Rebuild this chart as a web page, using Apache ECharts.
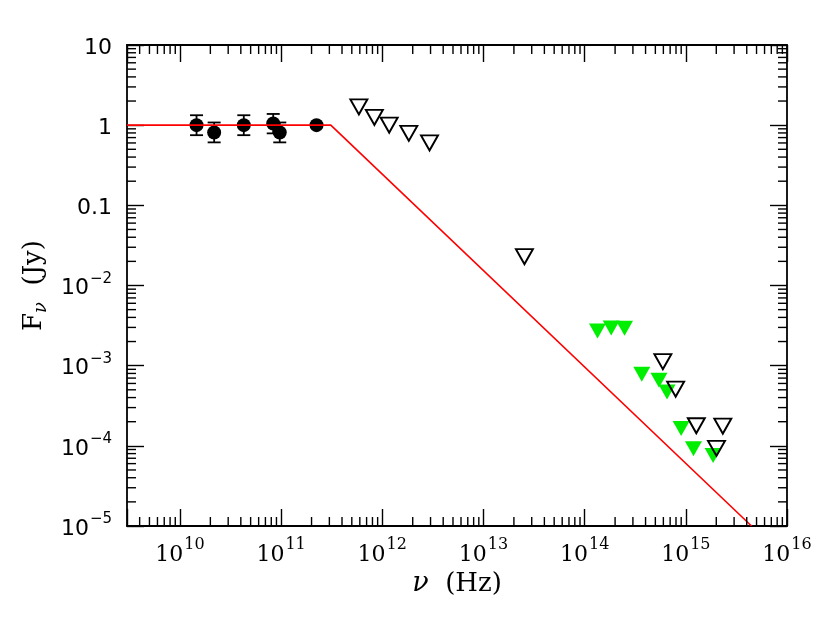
<!DOCTYPE html>
<html><head><meta charset="utf-8">
<script src="https://cdn.jsdelivr.net/npm/echarts@6/dist/echarts.min.js"></script>
<style>html,body{margin:0;padding:0;background:#fff}#c{width:830px;height:619px}</style>
</head><body><div id="c"></div>
<script>
// ---- data ----
const radioFreq = [1.46e10, 2.18e10, 4.28e10, 8.36e10, 9.7e10, 2.24e11];
const radioFlux = [1.0, 0.81, 1.0, 1.05, 0.81, 1.0];
const radioLo   = [0.75, 0.61, 0.75, 0.79, 0.61, 0.97];
const radioHi   = [1.33, 1.08, 1.33, 1.38, 1.08, 1.03];

const openFreq = [5.87e11, 8.35e11, 1.17e12, 1.83e12, 2.93e12, 2.54e13, 5.93e14, 7.93e14, 1.27e15, 2.32e15, 2.01e15];
const openFlux = [1.69, 1.25, 1.0, 0.79, 0.60, 0.0229, 1.12e-3, 5.09e-4, 1.78e-4, 1.76e-4, 9.3e-5];

const greenFreq = [1.34e14, 1.83e14, 2.48e14, 3.67e14, 5.43e14, 6.52e14, 8.99e14, 1.19e15, 1.86e15];
const greenFlux = [2.71e-3, 2.95e-3, 2.93e-3, 7.8e-4, 6.57e-4, 4.7e-4, 1.64e-4, 9.2e-5, 7.6e-5];

const modelFreq = [3e9, 3.1e11, 4.46e15];
const modelFlux = [1, 1, 1e-5];

const xTickExps   = [10, 11, 12, 13, 14, 15, 16];
const xTickLabels = ['10^10', '10^11', '10^12', '10^13', '10^14', '10^15', '10^16'];
const yTickExps   = [1, 0, -1, -2, -3, -4, -5];
const yTickLabels = ['10', '1', '0.1', '10^\u22122', '10^\u22123', '10^\u22124', '10^\u22125'];

const xMin = 3e9, xMax = 1e16, yMin = 1e-5, yMax = 10;

// ---- helpers ----
function richLabel(s) {
  if (s.indexOf('^') >= 0) { const p = s.split('^'); return '{b|' + p[0] + '}{s|' + p[1] + '}'; }
  return '{b|' + s + '}';
}
function powerLabel(v, exps, labels) {
  const e = Math.log10(v), r = Math.round(e);
  if (Math.abs(e - r) > 1e-6) return '';
  const i = exps.indexOf(r);
  return i < 0 ? '' : richLabel(labels[i]);
}
function minorValues(lo, hi) {
  const out = [];
  for (let e = Math.floor(Math.log10(lo)); e <= Math.ceil(Math.log10(hi)); e++) {
    for (let k = 2; k <= 9; k++) { const v = k * Math.pow(10, e); if (v > lo && v < hi) out.push(v); }
  }
  return out;
}
const MAJ = 17, MIN = 9;
const tickStyle = { stroke: '#000', lineWidth: 1.4 };
function minorTickSeries(axis) {
  const vals = axis === 'x' ? minorValues(xMin, xMax) : minorValues(yMin, yMax);
  return {
    type: 'custom', coordinateSystem: 'cartesian2d', silent: true, z: 6, clip: false,
    data: vals.map(v => axis === 'x' ? [v, 1] : [1e12, v]),
    renderItem(params, api) {
      const cs = params.coordSys;
      const p = api.coord([api.value(0), api.value(1)]);
      if (axis === 'x') {
        const x = p[0];
        return { type: 'group', children: [
          { type: 'line', shape: { x1: x, y1: cs.y + cs.height, x2: x, y2: cs.y + cs.height - MIN }, style: tickStyle },
          { type: 'line', shape: { x1: x, y1: cs.y, x2: x, y2: cs.y + MIN }, style: tickStyle }
        ]};
      }
      const y = p[1];
      return { type: 'group', children: [
        { type: 'line', shape: { x1: cs.x, y1: y, x2: cs.x + MIN, y2: y }, style: tickStyle },
        { type: 'line', shape: { x1: cs.x + cs.width, y1: y, x2: cs.x + cs.width - MIN, y2: y }, style: tickStyle }
      ]};
    }
  };
}

const axisLine = { show: true, lineStyle: { color: '#000', width: 1.8 } };
const axisTick = { show: true, inside: true, length: MAJ, lineStyle: { color: '#000', width: 1.4 } };
const serif = "'DejaVu Serif','Liberation Serif',serif";
const sans = "'DejaVu Sans','Liberation Sans',sans-serif";

const chart = echarts.init(document.getElementById('c'), null, { renderer: 'canvas' });
chart.setOption({
  animation: false,
  backgroundColor: '#fff',
  grid: { left: 127, top: 45, width: 660, height: 481, containLabel: false },
  xAxis: [
    { type: 'log', logBase: 10, min: xMin, max: xMax, position: 'bottom',
      axisLine, axisTick, splitLine: { show: false }, minorTick: { show: false },
      axisLabel: { margin: 11, formatter: v => powerLabel(v, xTickExps, xTickLabels),
        rich: { b: { fontFamily: serif, fontSize: 22, color: '#000', lineHeight: 29, verticalAlign: 'bottom' },
                s: { fontFamily: serif, fontSize: 16, color: '#000', lineHeight: 29, verticalAlign: 'top', padding: [0, 0, 0, 1] } } },
      name: '{n|\u03bd}{t|  (Hz)}', nameLocation: 'middle', nameGap: 36,
      nameTextStyle: { rich: { n: { fontFamily: serif, fontStyle: 'italic', fontSize: 27, color: '#000', lineHeight: 34 },
                               t: { fontFamily: serif, fontSize: 26, color: '#000', lineHeight: 34 } } } },
    { type: 'log', logBase: 10, min: xMin, max: xMax, position: 'top',
      axisLine, axisTick, splitLine: { show: false }, axisLabel: { show: false } }
  ],
  yAxis: [
    { type: 'log', logBase: 10, min: yMin, max: yMax, position: 'left',
      axisLine, axisTick, splitLine: { show: false }, minorTick: { show: false },
      axisLabel: { margin: 15, formatter: v => powerLabel(v, yTickExps, yTickLabels),
        rich: { b: { fontFamily: sans, fontSize: 22, color: '#000', lineHeight: 28, verticalAlign: 'bottom' },
                s: { fontFamily: sans, fontSize: 15, color: '#000', lineHeight: 28, verticalAlign: 'top', padding: [0, 0, 0, 1] } } },
      name: '{a|F}{s|\u03bd}{a|  (Jy)}', nameLocation: 'middle', nameGap: 76, nameRotate: 90,
      nameTextStyle: { rich: { a: { fontFamily: serif, fontSize: 26, color: '#000', lineHeight: 32, verticalAlign: 'middle' },
                               s: { fontFamily: serif, fontStyle: 'italic', fontSize: 18, color: '#000', lineHeight: 32, verticalAlign: 'bottom' } } } },
    { type: 'log', logBase: 10, min: yMin, max: yMax, position: 'right',
      axisLine, axisTick, splitLine: { show: false }, axisLabel: { show: false } }
  ],
  series: [
    minorTickSeries('x'),
    minorTickSeries('y'),
    { type: 'custom', coordinateSystem: 'cartesian2d', silent: true, z: 3,
      data: radioFreq.map((x, i) => [x, radioLo[i], radioHi[i]]),
      encode: { x: 0, y: [1, 2] },
      renderItem(params, api) {
        const x = api.value(0);
        const lo = api.coord([x, api.value(1)]), hi = api.coord([x, api.value(2)]);
        const w = 6.5, st = { stroke: '#000', lineWidth: 1.8 };
        return { type: 'group', children: [
          { type: 'line', shape: { x1: lo[0], y1: lo[1], x2: hi[0], y2: hi[1] }, style: st },
          { type: 'line', shape: { x1: lo[0] - w, y1: lo[1], x2: lo[0] + w, y2: lo[1] }, style: st },
          { type: 'line', shape: { x1: hi[0] - w, y1: hi[1], x2: hi[0] + w, y2: hi[1] }, style: st }
        ]};
      } },
    { type: 'scatter', z: 4, symbol: 'circle', symbolSize: 14,
      itemStyle: { color: '#000', opacity: 1 },
      data: radioFreq.map((x, i) => [x, radioFlux[i]]) },
    { type: 'scatter', z: 4, symbol: 'triangle', symbolSize: [17, 15], symbolRotate: 180,
      itemStyle: { color: '#00ee00', opacity: 1 },
      data: greenFreq.map((x, i) => [x, greenFlux[i]]) },
    { type: 'scatter', z: 5, symbol: 'triangle', symbolSize: [17, 15], symbolRotate: 180,
      itemStyle: { color: 'rgba(0,0,0,0)', borderColor: '#000', borderWidth: 1.9, opacity: 1 },
      data: openFreq.map((x, i) => [x, openFlux[i]]) },
    { type: 'line', z: 5, symbol: 'none', lineStyle: { color: '#ff0000', width: 1.6 },
      data: modelFreq.map((x, i) => [x, modelFlux[i]]) }
  ]
});
</script></body></html>
